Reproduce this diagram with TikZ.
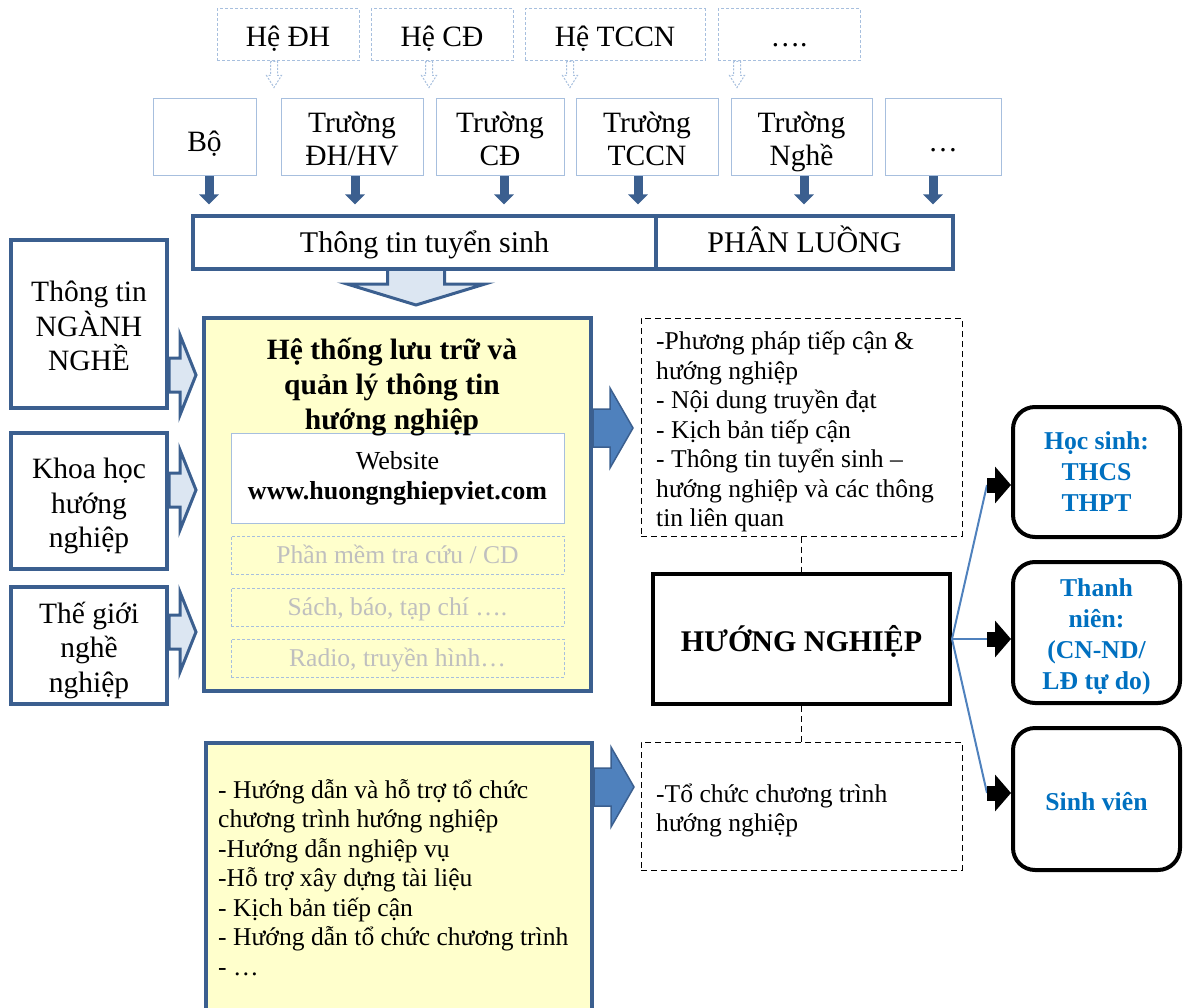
\documentclass[tikz,border=0pt]{standalone}
\usepackage{fontspec}
\setmainfont{Liberation Serif}
\usetikzlibrary{arrows.meta}
\definecolor{dkblue}{HTML}{3B5F8F}
\definecolor{medblue}{HTML}{4F81BD}
\definecolor{ltblue}{HTML}{DCE6F2}
\definecolor{boxline}{HTML}{A7BFDE}
\definecolor{yel}{HTML}{FFFFCC}
\definecolor{gtext}{HTML}{BFBFBF}
\definecolor{txtblue}{HTML}{0070C0}
\newcommand{\fsz}[2]{\fontsize{#1}{#2}\selectfont}
\newcommand{\topstrut}[1][0.88em]{\rule{0pt}{#1}}
\newcommand{\botstrut}{\rule[-0.22em]{0pt}{0.22em}}
\newcommand{\hs}[1]{\rule{0pt}{#1}}
\tikzset{
  lightarrow/.pic={\path[fill=ltblue, draw=dkblue, line width=3pt, line join=miter] (0,-17)--(11,-17)--(11,-40)--(27,0)--(11,40)--(11,17)--(0,17)--cycle;},
  bluearrow/.pic={\path[fill=medblue, draw=dkblue, line width=1.5pt, line join=miter] (0,-19)--(17,-19)--(17,-40)--(40,0)--(17,40)--(17,19)--(0,19)--cycle;},
  hollowdown/.pic={\path[draw=boxline, dash pattern=on 2pt off 1.5pt, line width=1pt, fill=white] (-3.5,0)--(-3.5,14)--(-7.5,14)--(0,26)--(7.5,14)--(3.5,14)--(3.5,0)--cycle;},
}
\begin{document}
\begin{tikzpicture}[x=1pt,y=-1pt,
  every node/.style={inner sep=0pt, align=center, execute at begin node={\topstrut}, execute at end node={\botstrut}},
  topbox/.style={draw=boxline, dash pattern=on 3pt off 2pt, line width=1pt, minimum height=52pt, font={\fsz{29.5}{34}}, execute at begin node={\topstrut[0.98em]}},
  rowbox/.style={draw=boxline, line width=1pt, minimum height=77pt, font={\fsz{29.5}{33}}, execute at begin node={\topstrut[1.18em]}},
  barbox/.style={draw=dkblue, line width=4pt, fill=white, minimum height=53pt, font={\fsz{30}{35}}},
  leftbox/.style={draw=dkblue, line width=4pt, fill=white, minimum width=156pt, font={\fsz{29.5}{34.5}}},
  ybox/.style={draw=dkblue, line width=4pt, fill=yel},
  webbox/.style={draw=boxline, line width=1pt, fill=white, minimum width=333pt, minimum height=90pt, font={\fsz{26}{30}}},
  graybox/.style={draw=boxline, dash pattern=on 3pt off 2pt, line width=1pt, minimum width=333pt, minimum height=38pt, text=gtext, font={\fsz{25.6}{30}}},
  dbox/.style={draw=black, dash pattern=on 6pt off 4pt, line width=1pt, minimum width=321pt},
  listtext/.style={align=left, font={\fsz{25.6}{29.5}}},
  hnbox/.style={draw=black, line width=4pt, minimum width=297pt, minimum height=130pt, font={\fsz{30}{34}\bfseries}, execute at begin node={\topstrut[1.08em]}},
  rbox/.style={draw=black, line width=4pt, rounded corners=22pt, minimum width=167pt, text=txtblue, font={\fsz{25.7}{31}\bfseries}, execute at begin node={\topstrut[1.11em]}},
  dconn/.style={draw=black, dash pattern=on 6pt off 4pt, line width=1pt},
  bconn/.style={draw=medblue, line width=2pt},
  blkarrow/.style={draw=black, line width=15pt, -{Triangle[length=16pt,width=36pt]}},
  bluedown/.style={draw=dkblue, line width=9pt, -{Triangle[length=10pt,width=19pt]}},
]
\useasboundingbox (0,0) rectangle (1185,1008);

% top dashed boxes
\node[topbox, minimum width=142pt] (hdh) at (288,35) {Hệ ĐH};
\node[topbox, minimum width=142pt] (hcd) at (442,35) {Hệ CĐ};
\node[topbox, minimum width=180pt] (htccn) at (615,35) {Hệ TCCN};
\node[topbox, minimum width=142pt] (hdots) at (789,35) {….};
\pic at ([xshift=-14pt]hdh.south) {hollowdown};
\pic at ([xshift=-13pt]hcd.south) {hollowdown};
\pic at ([xshift=-45pt]htccn.south) {hollowdown};
\pic at ([xshift=-52pt]hdots.south) {hollowdown};

% second row
\node[rowbox, minimum width=103pt] (bo) at (204.5,137.5) {Bộ};
\node[rowbox, minimum width=142pt] (tdh) at (352,137.5) {\hs{30pt}Trường\\ĐH/HV};
\node[rowbox, minimum width=128pt] (tcd) at (500,137.5) {\hs{30pt}Trường\\CĐ};
\node[rowbox, minimum width=142pt] (ttccn) at (647,137.5) {\hs{30pt}Trường\\TCCN};
\node[rowbox, minimum width=141pt] (tnghe) at (801.5,137.5) {\hs{30pt}Trường\\Nghề};
\node[rowbox, minimum width=116pt] (tdots) at (943,137.5) {…};

% big hollow down arrow (under the bar)
\path[fill=ltblue, draw=dkblue, line width=3pt, line join=miter] (387.5,255)--(387.5,284)--(347,284)--(416,305)--(485,284)--(444.5,284)--(444.5,255)--cycle;

% bar
\node[barbox, minimum width=463pt, anchor=north west] (tts) at (191,214) {Thông tin tuyển sinh};
\node[barbox, minimum width=297pt, anchor=north west] (pl) at (654,214) {PHÂN LUỒNG};

\draw[bluedown] ([xshift=4.5pt]bo.south) -- ++(0,28);
\draw[bluedown] ([xshift=3pt]tdh.south) -- ++(0,28);
\draw[bluedown] ([xshift=4pt]tcd.south) -- ++(0,28);
\draw[bluedown] ([xshift=-9pt]ttccn.south) -- ++(0,28);
\draw[bluedown] ([xshift=2.5pt]tnghe.south) -- ++(0,28);
\draw[bluedown] ([xshift=-10pt]tdots.south) -- ++(0,28);

% left boxes
\node[leftbox, minimum height=168pt] (ltt) at (89,324) {\hs{31pt}Thông tin\\NGÀNH\\NGHỀ};
\node[leftbox, minimum height=136pt] (lkh) at (89,501) {\hs{31pt}Khoa học\\hướng\\nghiệp};
\node[leftbox, minimum height=117pt] (ltg) at (89,645.5) {\hs{31pt}Thế giới\\nghề\\nghiệp};
\pic at (ltt.east |- 0,375) {lightarrow};
\pic at (lkh.east |- 0,490) {lightarrow};
\pic at (ltg.east |- 0,632) {lightarrow};

% yellow main box
\node[ybox, minimum width=387pt, minimum height=373pt] (ybox) at (397.5,504.5) {};
\node[webbox] (web) at (397.5,478) {Website\\\textbf{www.huongnghiepviet.com}};
\node[font={\fsz{29.5}{35}\bfseries}] (title) at (392,387.5) {Hệ thống lưu trữ và\\quản lý thông tin\\hướng nghiệp};
\node[graybox] (g1) at (397.5,555) {Phần mềm tra cứu / CD};
\node[graybox] (g2) at (397.5,607) {Sách, báo, tạp chí ….};
\node[graybox] (g3) at (397.5,658) {Radio, truyền hình…};
\pic at (ybox.east |- 0,428) {bluearrow};

% bottom yellow box
\node[ybox, minimum width=386pt, minimum height=300pt, anchor=north west] (yb2) at (204,741) {};
\node[listtext, anchor=west] (yb2t) at (218,880) {- Hướng dẫn và hỗ trợ tổ chức\\chương trình hướng nghiệp\\-Hướng dẫn nghiệp vụ\\-Hỗ trợ xây dựng tài liệu\\- Kịch bản tiếp cận\\- Hướng dẫn tổ chức chương trình\\- …};
\pic at (yb2.east |- 0,787) {bluearrow};

% right dashed boxes
\node[dbox, minimum height=218pt] (rb1) at (801.5,427) {};
\node[listtext, anchor=west] (rb1t) at (656,432) {-Phương pháp tiếp cận \&\\hướng nghiệp\\- Nội dung truyền đạt\\- Kịch bản tiếp cận\\- Thông tin tuyển sinh –\\hướng nghiệp và các thông\\tin liên quan};
\node[hnbox] (hn) at (801.5,639) {HƯỚNG NGHIỆP};
\node[dbox, minimum height=128pt] (rb2) at (801.5,806) {};
\node[listtext, anchor=west] (rb2t) at (656,810.5) {-Tổ chức chương trình\\hướng nghiệp};
\draw[dconn] (rb1.south) -- (hn.north);
\draw[dconn] (hn.south) -- (rb2.north);

% target boxes
\node[rbox, minimum height=130pt] (ra) at (1096.5,472) {\hs{22pt}Học sinh:\\THCS\\THPT};
\node[rbox, minimum height=141pt] (rbx) at (1096.5,632.5) {\hs{27.5pt}Thanh\\niên:\\(CN-ND/\\LĐ tự do)};
\node[rbox, minimum height=142pt] (rc) at (1096.5,799) {Sinh viên};

\coordinate (cA) at (987,485);
\coordinate (cB) at (987,639);
\coordinate (cC) at (987,793);
\draw[bconn] (hn.east) -- (cA);
\draw[bconn] (hn.east) -- (cB);
\draw[bconn] (hn.east) -- (cC);
\draw[blkarrow] (cA) -- (cA -| ra.west);
\draw[blkarrow] (cB) -- (cB -| rbx.west);
\draw[blkarrow] (cC) -- (cC -| rc.west);
\end{tikzpicture}
\end{document}
